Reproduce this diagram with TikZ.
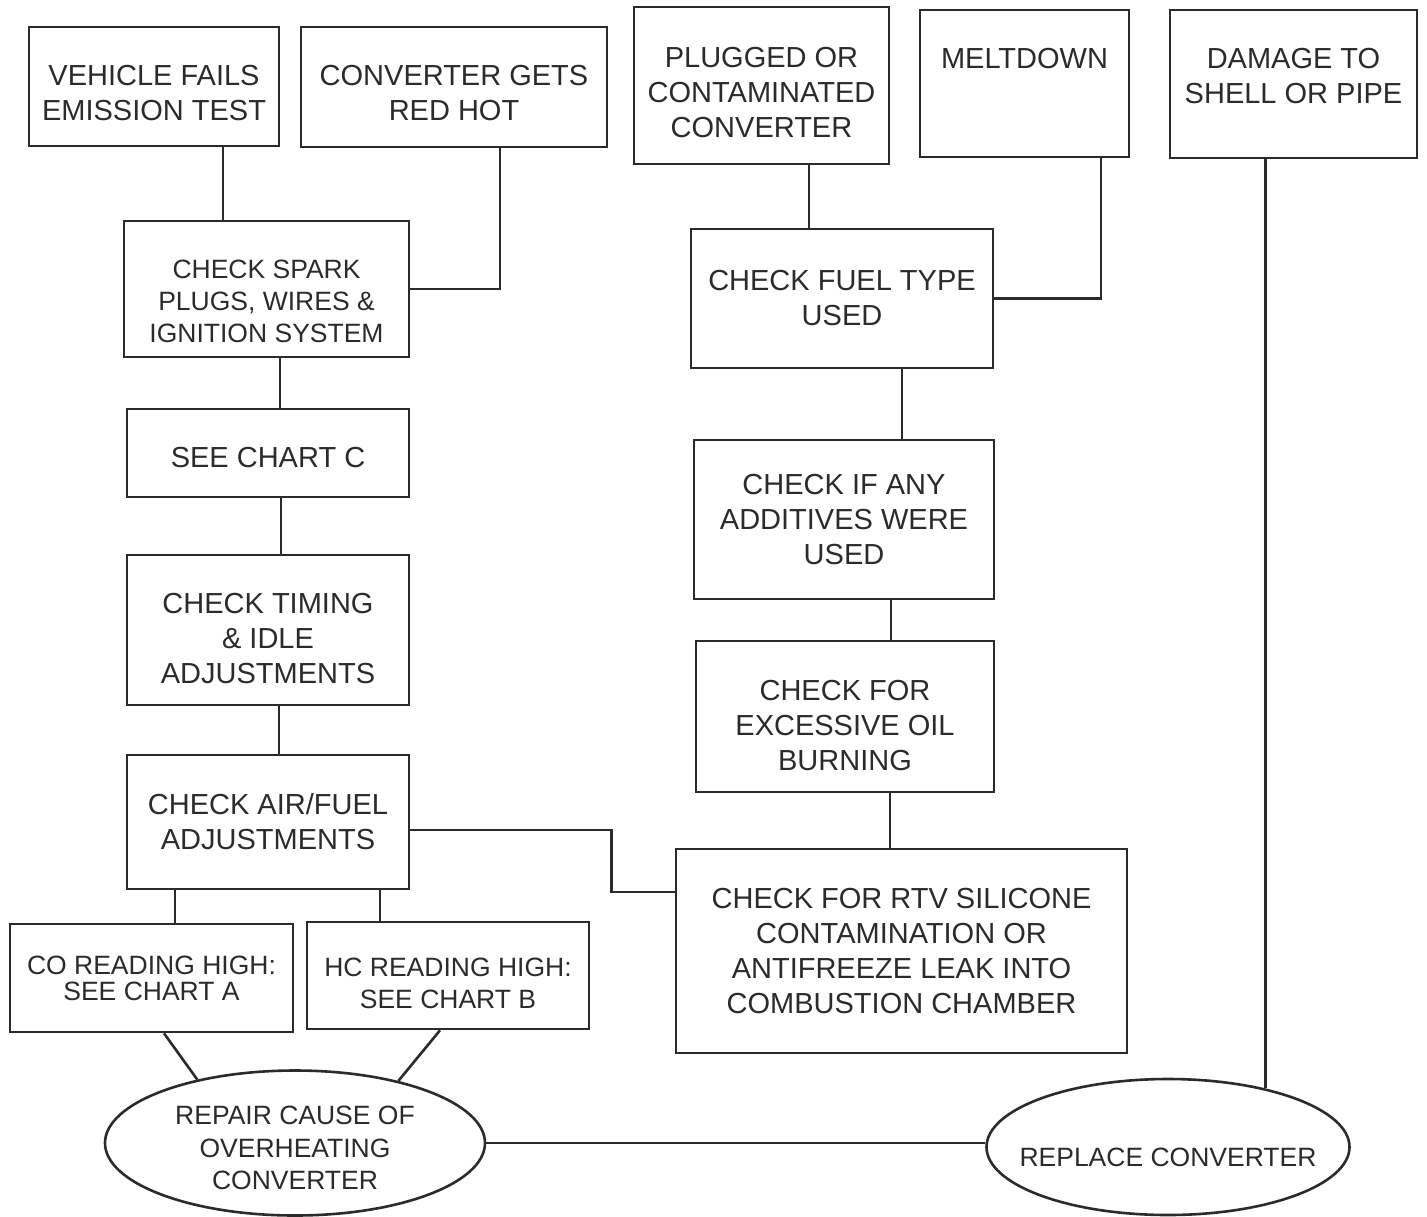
\documentclass[tikz,border=0pt]{standalone}
\usepackage{fontspec}
\setmainfont{Liberation Sans}
\usetikzlibrary{shapes.geometric}
\definecolor{ink}{HTML}{2B2B2B}
\begin{document}
\begin{tikzpicture}[x=1pt, y=-1pt, color=ink, line width=2.6pt,
        box/.style={draw, rectangle, inner sep=0pt, align=center, font=\fontsize{29}{35}\selectfont},
        small/.style={font=\fontsize{26.5}{32}\selectfont},
        oval/.style={draw, ellipse, inner sep=0pt, align=center, font=\fontsize{26.5}{32.5}\selectfont}]
        \useasboundingbox (0,0) rectangle (1427,1216);
        \node [box, minimum width=250pt, minimum height=119pt] (veh) at (154,86.5) {\rule{0pt}{33pt}VEHICLE FAILS\\EMISSION TEST};
        \node [box, minimum width=306pt, minimum height=120pt] (hot) at (454,87) {\rule{0pt}{33pt}CONVERTER GETS\\RED HOT};
        \node [box, minimum width=255pt, minimum height=157pt] (plg) at (761.5,85.5) {\rule{0pt}{34pt}PLUGGED OR\\CONTAMINATED\\CONVERTER};
        \node [box, minimum width=209pt, minimum height=147pt] (mlt) at (1024.5,83.5) {MELTDOWN\rule[-50pt]{0pt}{50pt}};
        \node [box, minimum width=247pt, minimum height=148pt] (dmg) at (1293.5,84) {DAMAGE TO\\SHELL OR PIPE\rule[-16pt]{0pt}{16pt}};
        \node [box, small, minimum width=285pt, minimum height=136pt] (spk) at (266.5,289) {\rule{0pt}{43pt}CHECK SPARK\\PLUGS, WIRES \&\\IGNITION SYSTEM};
        \node [box, minimum width=282pt, minimum height=88pt] (seec) at (268,453) {\rule{0pt}{30pt}SEE CHART C};
        \node [box, minimum width=282pt, minimum height=150pt] (tim) at (268,630) {\rule{0pt}{38pt}CHECK TIMING\\\& IDLE\\ADJUSTMENTS};
        \node [box, minimum width=282pt, minimum height=134pt] (air) at (268,822) {CHECK AIR/FUEL\\ADJUSTMENTS};
        \node [box, font=\fontsize{26.5}{26}\selectfont, minimum width=283pt, minimum height=108pt] (co) at (151.5,978) {CO READING HIGH:\\SEE CHART A};
        \node [box, small, minimum width=282pt, minimum height=107pt] (hc) at (448,975.5) {\rule{0pt}{35pt}HC READING HIGH:\\SEE CHART B};
        \node [box, minimum width=302pt, minimum height=139pt] (fuel) at (842,298.5) {CHECK FUEL TYPE\\USED};
        \node [box, minimum width=300pt, minimum height=159pt] (add) at (844,519.5) {CHECK IF ANY\\ADDITIVES WERE\\USED};
        \node [box, minimum width=298pt, minimum height=151pt] (oil) at (845,716.5) {\rule{0pt}{39pt}CHECK FOR\\EXCESSIVE OIL\\BURNING};
        \node [box, minimum width=451pt, minimum height=204pt] (rtv) at (901.5,951) {CHECK FOR RTV SILICONE\\CONTAMINATION OR\\ANTIFREEZE LEAK INTO\\COMBUSTION CHAMBER};
        \node [oval, minimum width=380pt, minimum height=145pt] (rpr) at (295,1143) {\rule{0pt}{29pt}REPAIR CAUSE OF\\OVERHEATING\\CONVERTER};
        \node [oval, minimum width=363pt, minimum height=136pt, inner xsep=-24pt] (rep) at (1168,1147) {\rule{0pt}{40pt}REPLACE CONVERTER};
        \draw ([xshift=69pt]veh.south)--([xshift=69pt]veh.south |- spk.north);
        \draw ([xshift=46pt]hot.south) |- (spk.east);
        \draw ([xshift=13.5pt]spk.south)--([xshift=13.5pt]spk.south |- seec.north);
        \draw ([xshift=13pt]seec.south)--([xshift=13pt]seec.south |- tim.north);
        \draw ([xshift=11pt]tim.south)--([xshift=11pt]tim.south |- air.north);
        \draw ([xshift=-93pt]air.south)--([xshift=-93pt]air.south |- co.north);
        \draw ([xshift=112pt]air.south)--([xshift=112pt]air.south |- hc.north);
        \draw ([yshift=-8pt]air.east)--++(201,0) |- ([yshift=59pt]rtv.west);
        \draw ([xshift=47.5pt]plg.south)--([xshift=47.5pt]plg.south |- fuel.north);
        \draw ([xshift=76.5pt]mlt.south) |- (fuel.east);
        \draw ([xshift=60pt]fuel.south)--([xshift=60pt]fuel.south |- add.north);
        \draw ([xshift=47pt]add.south)--([xshift=47pt]add.south |- oil.north);
        \draw ([xshift=45pt]oil.south)--([xshift=45pt]oil.south |- rtv.north);
        \draw ([xshift=12.5pt]co.south)--(rpr.147);
        \draw ([xshift=-8pt]hc.south)--(rpr.31);
        \draw (rpr.east)--(rpr.east -| rep.west);
        \draw (rep.31 |- dmg.south)--(rep.31);
\end{tikzpicture}
\end{document}
